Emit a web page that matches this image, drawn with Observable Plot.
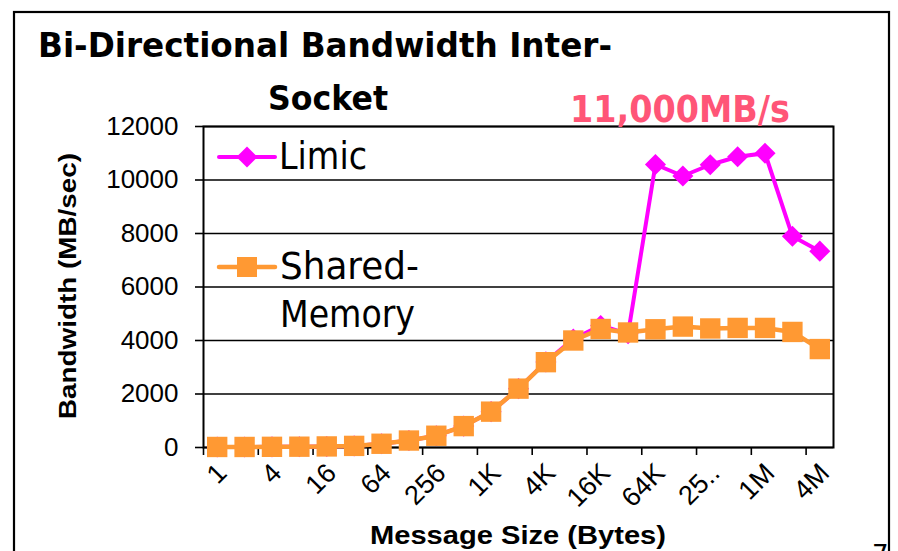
<!DOCTYPE html>
<html>
<head>
<meta charset="utf-8">
<script src="https://cdn.jsdelivr.net/npm/d3@7"></script>
<script src="https://cdn.jsdelivr.net/npm/@observablehq/plot@0.6"></script>
<style>
  html, body { margin: 0; padding: 0; background: white; overflow: hidden; }
  #chart { width: 898px; height: 551px; }
</style>
</head>
<body>
<div id="chart"></div>
<script>
// ---- data ----
const categories = ["1","2","4","8","16","32","64","128","256","512","1K","2K","4K","8K","16K","32K","64K","128K","256K","512K","1M","2M","4M"];
const tickLabels = ["1","4","16","64","256","1K","4K","16K","64K","25..","1M","4M"];
const limic  = [20,20,25,30,40,60,140,260,440,800,1340,2200,3200,4050,4560,4250,10580,10150,10570,10870,11000,7900,7340];
const shared = [20,20,25,30,40,60,140,260,440,800,1340,2200,3190,4000,4430,4300,4420,4520,4450,4470,4470,4320,3680];
const yTicks = [0,2000,4000,6000,8000,10000,12000];
const titleLines = ["Bi-Directional Bandwidth Inter-", "Socket"];
const seriesNames = ["Limic", "Shared-Memory"];
const annotation = "11,000MB/s";
const yLabel = "Bandwidth (MB/sec)";
const xLabel = "Message Size (Bytes)";

const MAG = "#ff00ff", ORG = "#ff9933";
const rows = categories.map((c, i) => ({i, c, limic: limic[i], shared: shared[i]}));
const labelIdx = tickLabels.map((_, k) => k * 2);
const boundaryIdx = tickLabels.map((_, k) => k * 2 - 0.5);

const chart = Plot.plot({
  width: 898, height: 551,
  marginLeft: 203, marginRight: 65, marginTop: 126, marginBottom: 104,
  style: {fontFamily: "'Liberation Sans', Arial, sans-serif", background: "white", color: "black"},
  x: {type: "linear", domain: [-0.5, categories.length - 0.5]},
  y: {domain: [0, 12000]},
  marks: [
    Plot.gridY(yTicks, {stroke: "black", strokeOpacity: 1, strokeWidth: 1.6}),
    Plot.frame({stroke: "black", strokeWidth: 2}),
    Plot.axisY({ticks: yTicks, tickSize: 8, tickPadding: 17, fontSize: 26, tickFormat: "d", label: null, strokeWidth: 1.6}),
    Plot.axisX({ticks: boundaryIdx, tickSize: 8, tickFormat: () => "", label: null, strokeWidth: 1.6}),
    Plot.axisX({ticks: labelIdx, tickSize: 0, tickRotate: -45, tickPadding: 21, fontSize: 27, dx: 5,
                tickFormat: i => tickLabels[i / 2], label: null}),
    Plot.line(rows, {x: "i", y: "limic", stroke: MAG, strokeWidth: 4, strokeLinejoin: "round"}),
    Plot.dot(rows, {x: "i", y: "limic", symbol: "diamond2", r: 9.5, fill: MAG, stroke: "none"}),
    Plot.line(rows, {x: "i", y: "shared", stroke: ORG, strokeWidth: 4.5, strokeLinejoin: "round"}),
    Plot.dot(rows, {x: "i", y: "shared", symbol: "square", r: 11.5, fill: ORG, stroke: "none"})
  ]
});
document.getElementById("chart").appendChild(chart);

// ---- decorations (slide frame, title, annotation, legend, axis titles) ----
const svg = d3.select(chart);
const comic = "'Comic Sans MS', 'DejaVu Sans', sans-serif";
const g = svg.append("g");

g.append("rect").attr("x", 14).attr("y", 12).attr("width", 875).attr("height", 700)
  .attr("fill", "none").attr("stroke", "black").attr("stroke-width", 2.2);

function txt(s, x, y, opts) {
  const t = g.append("text").text(s).attr("x", x).attr("y", y)
    .attr("font-family", opts.family || comic)
    .attr("font-size", opts.size)
    .attr("font-weight", opts.weight || "normal")
    .attr("fill", opts.fill || "black")
    .attr("text-anchor", opts.anchor || "start");
  if (opts.len) t.attr("textLength", opts.len).attr("lengthAdjust", "spacingAndGlyphs");
  if (opts.transform) t.attr("transform", opts.transform);
  return t;
}

txt(titleLines[0], 38, 57, {size: 34, weight: "bold", len: 574});
txt(titleLines[1], 268, 110, {size: 34, weight: "bold", len: 120});
txt(annotation, 570, 122, {size: 37, weight: "bold", fill: "#ff5577", len: 220});

// legend
const lg = g.append("g");
lg.append("line").attr("x1", 219).attr("x2", 275).attr("y1", 157).attr("y2", 157)
  .attr("stroke", MAG).attr("stroke-width", 4).attr("stroke-linecap", "round");
lg.append("path").attr("d", d3.symbol(d3.symbolDiamond2, Math.PI * 9.5 * 9.5)())
  .attr("transform", "translate(247,157)").attr("fill", MAG);
lg.append("line").attr("x1", 219).attr("x2", 275).attr("y1", 267).attr("y2", 267)
  .attr("stroke", ORG).attr("stroke-width", 4.5).attr("stroke-linecap", "round");
lg.append("rect").attr("x", 237).attr("y", 257).attr("width", 20).attr("height", 20).attr("fill", ORG);
txt(seriesNames[0], 279, 169, {size: 37, len: 88});
const parts = seriesNames[1].split("-");
txt(parts[0] + "-", 280, 279, {size: 37, len: 139});
txt(parts[1], 280, 327, {size: 37, len: 135});

// axis titles
txt(yLabel, 0, 0, {family: "'Liberation Sans', Arial, sans-serif", size: 24, weight: "bold",
  anchor: "middle", len: 266, transform: "translate(76,286) rotate(-90)"});
txt(xLabel, 518, 544, {family: "'Liberation Sans', Arial, sans-serif", size: 25, weight: "bold",
  anchor: "middle", len: 296});

// slide page number (cut off at the bottom, as on the slide)
txt("7", 872, 564, {size: 26});
</script>
</body>
</html>
